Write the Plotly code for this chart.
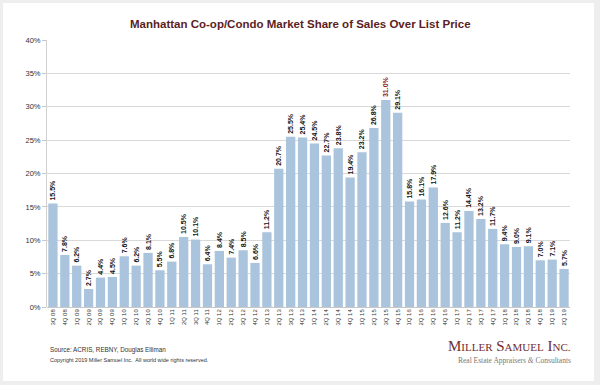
import plotly.graph_objects as go

quarters = ["3Q 08", "4Q 08", "1Q 09", "2Q 09", "3Q 09", "4Q 09",
            "1Q 10", "2Q 10", "3Q 10", "4Q 10",
            "1Q 11", "2Q 11", "3Q 11", "4Q 11",
            "1Q 12", "2Q 12", "3Q 12", "4Q 12",
            "1Q 13", "2Q 13", "3Q 13", "4Q 13",
            "1Q 14", "2Q 14", "3Q 14", "4Q 14",
            "1Q 15", "2Q 15", "3Q 15", "4Q 15",
            "1Q 16", "2Q 16", "3Q 16", "4Q 16",
            "1Q 17", "2Q 17", "3Q 17", "4Q 17",
            "1Q 18", "2Q 18", "3Q 18", "4Q 18",
            "1Q 19", "2Q 19"]
share_over_list = [15.5, 7.8, 6.2, 2.7, 4.4, 4.5,
                   7.6, 6.2, 8.1, 5.5,
                   6.8, 10.5, 10.1, 6.4,
                   8.4, 7.4, 8.5, 6.6,
                   11.2, 20.7, 25.5, 25.4,
                   24.5, 22.7, 23.8, 19.4,
                   23.2, 26.8, 31.0, 29.1,
                   15.8, 16.1, 17.9, 12.6,
                   11.2, 14.4, 13.2, 11.7,
                   9.4, 9.0, 9.1, 7.0,
                   7.1, 5.7]
y_ticks = [0, 5, 10, 15, 20, 25, 30, 35, 40]

W, H = 600, 385
L, R, T, B = 47, 30, 40, 78
pw, ph = W - L - R, H - T - B

def px(x):
    return (x - L) / pw

def py(y):
    return (H - B - y) / ph

peak = max(share_over_list)
label_colors = ["#8b1a1a" if v == peak else "#111111" for v in share_over_list]

fig = go.Figure()
fig.add_trace(go.Bar(
    x=quarters, y=share_over_list,
    marker=dict(color="#a9c4dc", line=dict(width=0)),
    text=[f"<b>{v:.1f}%</b>" for v in share_over_list],
    textposition="outside", textangle=-90,
    constraintext="none", cliponaxis=False,
    textfont=dict(family="Liberation Sans, Arial", size=7, color=label_colors),
    hoverinfo="skip",
))

shapes = [
    dict(type="rect", xref="paper", yref="paper", layer="below",
         x0=px(3), x1=px(594), y0=py(381), y1=py(3),
         fillcolor="white", line=dict(width=0)),
]

annotations = [
    dict(text="<b>Manhattan Co-op/Condo Market Share of Sales Over List Price</b>",
         xref="paper", yref="paper", x=px(300), y=py(24), showarrow=False,
         xanchor="center", yanchor="middle",
         font=dict(family="Liberation Sans, Arial", size=11.5, color="#5b1e24")),
    dict(text="Source: ACRIS, REBNY, Douglas Elliman",
         xref="paper", yref="paper", x=px(48), y=py(350), showarrow=False,
         xanchor="left", yanchor="middle",
         font=dict(family="Liberation Sans, Arial", size=6.3, color="#333333")),
    dict(text="Copyright 2019 Miller Samuel Inc.  All world wide rights reserved.",
         xref="paper", yref="paper", x=px(48), y=py(360), showarrow=False,
         xanchor="left", yanchor="middle",
         font=dict(family="Liberation Sans, Arial", size=5.5, color="#333333")),
    dict(text="M<span style='font-size:11px'>ILLER</span> S<span style='font-size:11px'>AMUEL</span> I<span style='font-size:11px'>NC.</span>",
         xref="paper", yref="paper", x=px(573), y=py(346), showarrow=False,
         xanchor="right", yanchor="middle",
         font=dict(family="Liberation Serif, Times New Roman", size=15, color="#6e2c33")),
    dict(text="Real Estate Appraisers <i>&amp;</i> Consultants",
         xref="paper", yref="paper", x=px(573), y=py(360), showarrow=False,
         xanchor="right", yanchor="middle",
         font=dict(family="Liberation Serif, Times New Roman", size=7.5, color="#777777")),
]

fig.update_layout(
    width=W, height=H,
    margin=dict(l=L, r=R, t=T, b=B, pad=0),
    paper_bgcolor="#eeeeee", plot_bgcolor="white",
    showlegend=False, bargap=0.22,
    shapes=shapes, annotations=annotations,
    font=dict(family="Liberation Sans, Arial", color="#333333"),
)
fig.update_xaxes(
    tickangle=-90, tickfont=dict(size=6, color="#333333"),
    showgrid=False, showline=False, ticks="",
    fixedrange=True,
)
fig.update_yaxes(
    range=[0, 40], tickvals=y_ticks, ticktext=[f"{v}%" for v in y_ticks],
    tickfont=dict(size=7.5, color="#333333"),
    showgrid=True, gridcolor="#d9d9d9", gridwidth=1,
    showline=True, linecolor="#d0d0d0", linewidth=1,
    ticks="outside", ticklen=4, tickcolor="#c8c8c8",
    zeroline=True, zerolinecolor="#c8c8c8", zerolinewidth=1,
    fixedrange=True,
)

fig.write_html("out.html", config={"displayModeBar": False},
               post_script="document.body.style.margin='0';document.body.style.overflow='hidden';")
